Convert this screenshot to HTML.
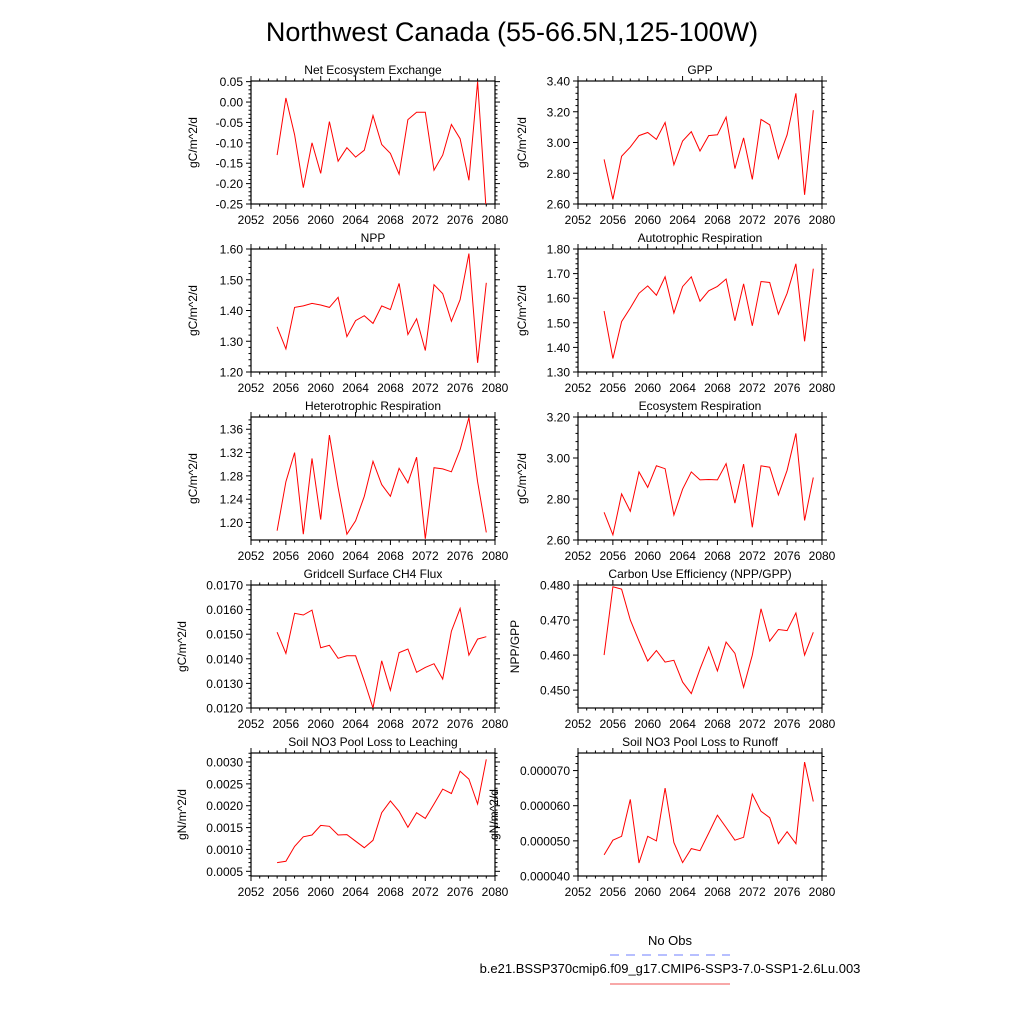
<!DOCTYPE html>
<html><head><meta charset="utf-8"><style>
html,body{margin:0;padding:0;background:#fff;}
svg text{font-family:"Liberation Sans",sans-serif;fill:#000;}
</style></head><body>
<svg id="chart" width="1024" height="1024" viewBox="0 0 1024 1024" xmlns="http://www.w3.org/2000/svg">
<rect width="1024" height="1024" fill="#fff"/>
<text x="512" y="41" font-size="27" text-anchor="middle">Northwest Canada (55-66.5N,125-100W)</text>
<g>
<text x="670" y="945" font-size="13" text-anchor="middle">No Obs</text>
<line x1="610" y1="955" x2="730" y2="955" stroke="#6f7fff" stroke-width="1" stroke-dasharray="9,7"/>
<text x="670" y="973" font-size="13" text-anchor="middle">b.e21.BSSP370cmip6.f09_g17.CMIP6-SSP3-7.0-SSP1-2.6Lu.003</text>
<line x1="610" y1="984" x2="730" y2="984" stroke="#f05050" stroke-width="1"/>
</g>
</svg>
<script>
const years = [2055,2056,2057,2058,2059,2060,2061,2062,2063,2064,2065,2066,2067,2068,2069,2070,2071,2072,2073,2074,2075,2076,2077,2078,2079];
const xTicks = [2052,2056,2060,2064,2068,2072,2076,2080];
const neeValues = [-0.13,0.01,-0.08,-0.21,-0.10,-0.175,-0.048,-0.145,-0.112,-0.135,-0.118,-0.033,-0.104,-0.126,-0.177,-0.043,-0.025,-0.025,-0.167,-0.13,-0.055,-0.09,-0.192,0.05,-0.27];
const gppValues = [2.89,2.63,2.91,2.97,3.045,3.065,3.02,3.13,2.855,3.01,3.07,2.945,3.045,3.05,3.165,2.83,3.03,2.76,3.15,3.115,2.895,3.05,3.32,2.66,3.21];
const nppValues = [1.347,1.275,1.41,1.415,1.423,1.418,1.41,1.443,1.315,1.367,1.383,1.358,1.415,1.403,1.488,1.322,1.373,1.27,1.484,1.455,1.365,1.435,1.585,1.23,1.49];
const arValues = [1.548,1.355,1.505,1.56,1.62,1.65,1.612,1.687,1.54,1.647,1.687,1.588,1.63,1.648,1.678,1.508,1.658,1.488,1.668,1.664,1.535,1.62,1.74,1.425,1.72];
const hrValues = [1.186,1.27,1.32,1.18,1.31,1.205,1.35,1.26,1.18,1.203,1.245,1.305,1.265,1.245,1.293,1.268,1.312,1.172,1.294,1.292,1.287,1.325,1.38,1.27,1.183];
const erValues = [2.735,2.625,2.825,2.74,2.932,2.857,2.962,2.948,2.722,2.848,2.932,2.893,2.895,2.893,2.972,2.78,2.97,2.662,2.962,2.955,2.82,2.94,3.12,2.695,2.905];
const ch4Values = [0.01508,0.01422,0.01585,0.01578,0.01598,0.01445,0.01455,0.01402,0.01412,0.01412,0.01310,0.01200,0.01392,0.01272,0.01425,0.01440,0.01345,0.01365,0.01380,0.01318,0.01512,0.01605,0.01415,0.01480,0.01490];
const cueValues = [0.4600,0.4795,0.4788,0.4700,0.4640,0.4583,0.4613,0.4580,0.4585,0.4523,0.4490,0.4560,0.4623,0.4555,0.4637,0.4605,0.4508,0.4600,0.4732,0.4640,0.4673,0.4670,0.4720,0.4600,0.4665];
const leachValues = [0.00070,0.00073,0.00107,0.00129,0.00133,0.00155,0.00153,0.00133,0.00134,0.00119,0.00104,0.00121,0.00184,0.00211,0.00187,0.00151,0.00184,0.00171,0.00204,0.00238,0.00228,0.00279,0.00261,0.00204,0.00306];
const runoffValues = [0.0000460,0.0000502,0.0000513,0.0000618,0.0000437,0.0000513,0.0000500,0.0000650,0.0000495,0.0000438,0.0000478,0.0000472,0.0000522,0.0000573,0.0000538,0.0000502,0.0000510,0.0000633,0.0000584,0.0000566,0.0000492,0.0000526,0.0000492,0.0000724,0.0000612];

const panels = [
 {name:'nee',title:'Net Ecosystem Exchange',vals:neeValues,x0:251,y0:81,min:-0.25,max:0.0516,start:-0.25,step:0.05,minor:0.01,dec:2,ylab:'gC/m^2/d',lx:197},
 {name:'gpp',title:'GPP',vals:gppValues,x0:578,y0:81,min:2.6,max:3.4,start:2.6,step:0.2,minor:0.04,dec:2,ylab:'gC/m^2/d',lx:526},
 {name:'npp',title:'NPP',vals:nppValues,x0:251,y0:249,min:1.2,max:1.6,start:1.2,step:0.1,minor:0.02,dec:2,ylab:'gC/m^2/d',lx:197},
 {name:'autotrophic-respiration',title:'Autotrophic Respiration',vals:arValues,x0:578,y0:249,min:1.3,max:1.8,start:1.3,step:0.1,minor:0.02,dec:2,ylab:'gC/m^2/d',lx:526},
 {name:'heterotrophic-respiration',title:'Heterotrophic Respiration',vals:hrValues,x0:251,y0:417,min:1.170,max:1.381,start:1.20,step:0.04,minor:0.008,dec:2,ylab:'gC/m^2/d',lx:197},
 {name:'ecosystem-respiration',title:'Ecosystem Respiration',vals:erValues,x0:578,y0:417,min:2.6,max:3.2,start:2.6,step:0.2,minor:0.04,dec:2,ylab:'gC/m^2/d',lx:526},
 {name:'ch4-flux',title:'Gridcell Surface CH4 Flux',vals:ch4Values,x0:251,y0:585,min:0.012,max:0.017,start:0.012,step:0.001,minor:0.0002,dec:4,ylab:'gC/m^2/d',lx:186},
 {name:'carbon-use-efficiency',title:'Carbon Use Efficiency (NPP/GPP)',vals:cueValues,x0:578,y0:585,min:0.4449,max:0.480,start:0.450,step:0.01,minor:0.002,dec:3,ylab:'NPP/GPP',lx:519},
 {name:'no3-leaching',title:'Soil NO3 Pool Loss to Leaching',vals:leachValues,x0:251,y0:753,min:0.000393,max:0.003206,start:0.0005,step:0.0005,minor:0.0001,dec:4,ylab:'gN/m^2/d',lx:186},
 {name:'no3-runoff',title:'Soil NO3 Pool Loss to Runoff',vals:runoffValues,x0:578,y0:753,min:0.00004,max:0.000075,start:0.00004,step:0.00001,minor:0.000002,dec:6,ylab:'gN/m^2/d',lx:498}
];
const W=244,H=123,NS='http://www.w3.org/2000/svg';
const svg=document.getElementById('chart');
function mk(tag,attrs,parent){const e=document.createElementNS(NS,tag);for(const k in attrs)e.setAttribute(k,attrs[k]);parent.appendChild(e);return e;}
panels.forEach((p,pi)=>{
 const g=mk('g',{},svg);
 
 
 const xs=v=>p.x0+(v-2052)/(2080-2052)*W;
 const ys=v=>p.y0+H-(v-p.min)/(p.max-p.min)*H;
 const cid='clip'+pi;
 const cp=mk('clipPath',{id:cid},g);mk('rect',{x:p.x0,y:p.y0,width:W,height:H},cp);
 // minor x ticks
 for(let yr=2052;yr<=2080;yr++){
  const x=xs(yr),maj=(yr-2052)%4===0,L=maj?5:2.5;
  const t1=mk('line',{x1:x,y1:p.y0+H,x2:x,y2:p.y0+H+L,stroke:'#000','stroke-width':1},g);
  
  
  const t2=mk('line',{x1:x,y1:p.y0,x2:x,y2:p.y0-L,stroke:'#000','stroke-width':1},g);
  
  
 }
 xTicks.forEach(t=>{
  const tx=mk('text',{x:xs(t),y:p.y0+H+20,'font-size':12,'text-anchor':'middle'},g);tx.textContent=t;
  
  
 });
 // y minor ticks
 const eps=p.minor*1e-3;
 let m0=Math.ceil((p.min-eps)/p.minor);
 for(let k=m0;k*p.minor<=p.max+eps;k++){
  const v=k*p.minor,y=ys(v);
  const rel=(v-p.start)/p.step,maj=Math.abs(rel-Math.round(rel))<1e-3,L=maj?5:2.5;
  const a=mk('line',{x1:p.x0-L,y1:y,x2:p.x0,y2:y,stroke:'#000','stroke-width':1},g);
  
  
  const b=mk('line',{x1:p.x0+W,y1:y,x2:p.x0+W+L,y2:y,stroke:'#000','stroke-width':1},g);
  
  
 }
 for(let k=0;p.start+k*p.step<=p.max+eps;k++){
  const v=p.start+k*p.step;
  const tx=mk('text',{x:p.x0-8,y:ys(v)+4.5,'font-size':12,'text-anchor':'end'},g);tx.textContent=v.toFixed(p.dec);
  
  
 }
 const fr=mk('rect',{x:p.x0,y:p.y0,width:W,height:H,fill:'none',stroke:'#000','stroke-width':1.2},g);
 
 
 const tt=mk('text',{x:p.x0+W/2,y:p.y0-7,'font-size':12,'text-anchor':'middle'},g);tt.textContent=p.title;
 
 
 const yl=mk('text',{x:p.lx,y:p.y0+H/2,'font-size':12,'text-anchor':'middle',transform:'rotate(-90 '+p.lx+' '+(p.y0+H/2)+')'},g);yl.textContent=p.ylab;
 
 
 const pts=p.vals.map((v,i)=>xs(years[i]).toFixed(1)+','+ys(v).toFixed(1)).join(' ');
 const pl=mk('polyline',{points:pts,fill:'none',stroke:'#ff0000','stroke-width':1,'clip-path':'url(#'+cid+')'},g);
 
 
});
</script>
</body></html>
